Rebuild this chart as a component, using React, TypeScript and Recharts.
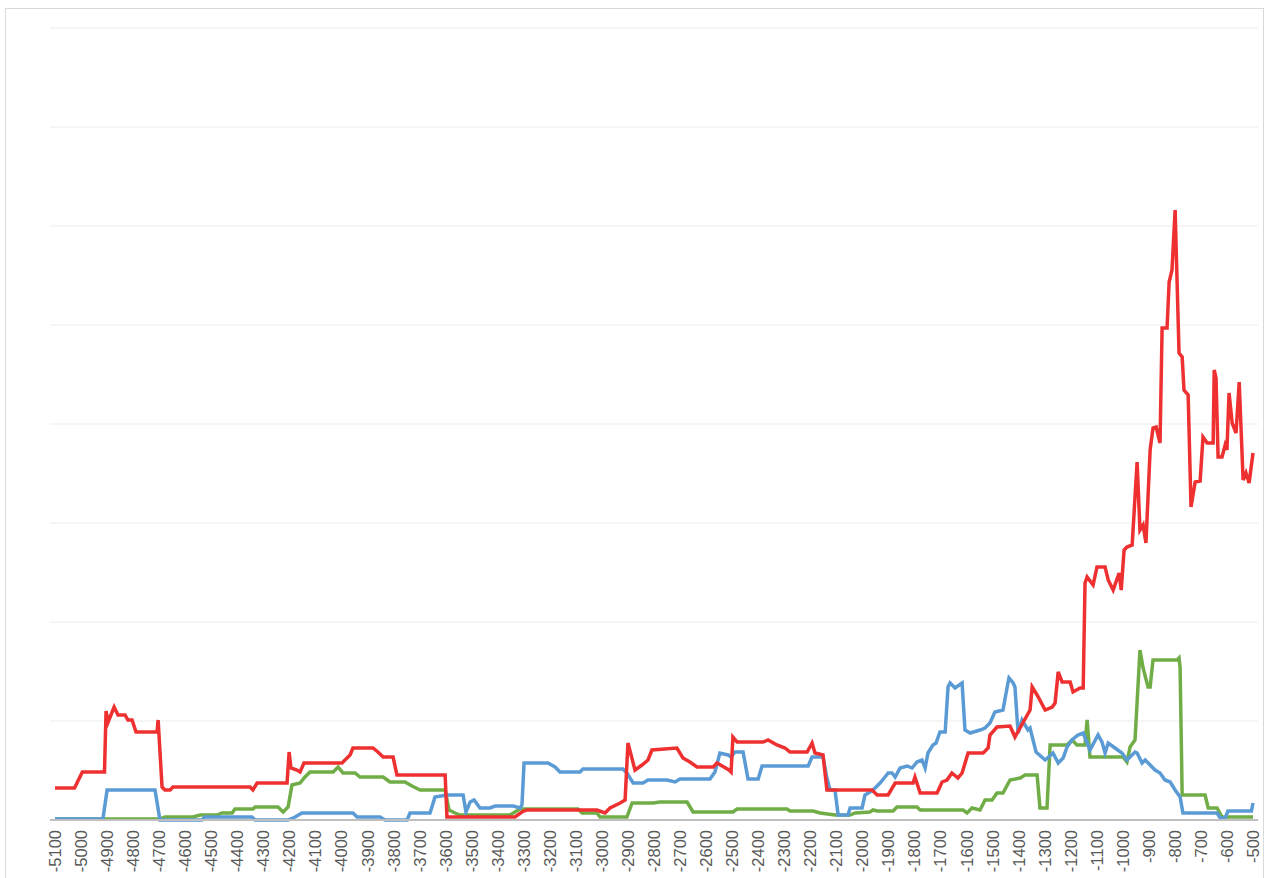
import { LineChart, Line, XAxis, YAxis, CartesianGrid } from "recharts";

// [year, value] pairs, per series
const redSeries: [number, number][] = [
  [-5100, 32], [-5025, 32], [-4995, 48], [-4910, 48], [-4904, 109], [-4896, 98],
  [-4873, 113], [-4858, 105], [-4831, 105], [-4820, 100], [-4804, 100], [-4789, 88],
  [-4708, 88], [-4704, 100], [-4689, 33], [-4678, 30], [-4658, 30], [-4647, 33],
  [-4351, 33], [-4340, 30], [-4324, 37], [-4209, 37], [-4201, 68], [-4194, 52],
  [-4171, 50], [-4159, 48], [-4144, 57], [-3998, 57], [-3967, 65], [-3956, 72],
  [-3879, 72], [-3860, 68], [-3840, 63], [-3802, 63], [-3787, 45], [-3602, 45],
  [-3595, 3], [-3334, 3], [-3307, 8], [-3288, 10], [-3019, 10], [-2988, 7],
  [-2969, 12], [-2930, 17], [-2911, 20], [-2900, 77], [-2873, 50], [-2846, 55],
  [-2823, 60], [-2808, 70], [-2712, 72], [-2689, 62], [-2662, 58], [-2635, 53],
  [-2573, 53], [-2558, 57], [-2512, 50], [-2504, 48], [-2497, 83], [-2481, 78],
  [-2381, 78], [-2362, 80], [-2328, 75], [-2297, 72], [-2278, 68], [-2212, 68],
  [-2193, 77], [-2182, 67], [-2151, 65], [-2136, 30], [-1963, 30], [-1943, 25],
  [-1901, 25], [-1874, 37], [-1805, 37], [-1798, 43], [-1778, 27], [-1713, 27],
  [-1694, 38], [-1675, 40], [-1656, 47], [-1633, 42], [-1617, 47], [-1594, 67],
  [-1536, 67], [-1517, 72], [-1510, 85], [-1483, 93], [-1433, 94], [-1414, 83],
  [-1356, 110], [-1348, 133], [-1329, 125], [-1298, 110], [-1271, 113], [-1260, 117],
  [-1248, 148], [-1233, 138], [-1202, 138], [-1191, 128], [-1164, 132], [-1152, 132],
  [-1145, 237], [-1137, 243], [-1114, 235], [-1099, 253], [-1068, 253], [-1056, 240],
  [-1037, 230], [-1014, 247], [-1006, 230], [-995, 270], [-984, 273], [-964, 275],
  [-945, 358], [-934, 290], [-922, 295], [-911, 277], [-895, 370], [-884, 392],
  [-872, 393], [-857, 377], [-849, 492], [-830, 492], [-822, 538], [-811, 550],
  [-799, 610], [-784, 467], [-772, 463], [-765, 430], [-749, 425], [-738, 313],
  [-722, 338], [-703, 339], [-692, 383], [-676, 377], [-653, 377], [-649, 450],
  [-642, 442], [-634, 363], [-619, 363], [-607, 375], [-600, 370], [-592, 427],
  [-580, 397], [-565, 387], [-553, 438], [-538, 340], [-527, 347], [-515, 337],
  [-500, 367],
];

const blueSeries: [number, number][] = [
  [-5100, 1], [-4916, 1], [-4900, 30], [-4716, 30], [-4697, 0], [-4536, 0],
  [-4524, 3], [-4344, 3], [-4332, 0], [-4205, 0], [-4178, 3], [-4152, 7],
  [-3956, 7], [-3940, 3], [-3852, 3], [-3833, 0], [-3748, 0], [-3737, 7],
  [-3660, 7], [-3641, 23], [-3595, 25], [-3533, 25], [-3522, 8], [-3506, 18],
  [-3491, 20], [-3468, 12], [-3430, 12], [-3410, 14], [-3341, 14], [-3314, 12],
  [-3307, 15], [-3299, 57], [-3207, 57], [-3180, 53], [-3161, 48], [-3084, 48],
  [-3073, 51], [-2919, 51], [-2904, 47], [-2880, 37], [-2842, 37], [-2823, 40],
  [-2750, 40], [-2719, 38], [-2700, 41], [-2585, 41], [-2566, 48], [-2547, 67],
  [-2516, 65], [-2504, 63], [-2489, 68], [-2458, 68], [-2439, 41], [-2400, 41],
  [-2385, 54], [-2208, 54], [-2193, 63], [-2151, 63], [-2136, 42], [-2124, 30],
  [-2105, 30], [-2093, 5], [-2055, 5], [-2047, 12], [-2001, 12], [-1990, 25],
  [-1959, 30], [-1932, 37], [-1913, 43], [-1901, 47], [-1886, 47], [-1874, 43],
  [-1855, 52], [-1828, 54], [-1809, 52], [-1790, 58], [-1771, 60], [-1759, 52],
  [-1748, 67], [-1729, 75], [-1717, 77], [-1702, 88], [-1682, 88], [-1671, 133],
  [-1663, 137], [-1644, 132], [-1617, 137], [-1606, 90], [-1586, 87], [-1548, 90],
  [-1529, 92], [-1510, 97], [-1491, 108], [-1460, 110], [-1441, 137], [-1437, 142],
  [-1421, 137], [-1414, 133], [-1402, 87], [-1387, 100], [-1364, 90], [-1356, 92],
  [-1333, 68], [-1298, 60], [-1268, 67], [-1248, 57], [-1229, 62], [-1214, 73],
  [-1195, 80], [-1172, 85], [-1152, 87], [-1126, 70], [-1095, 85], [-1080, 78],
  [-1068, 67], [-1056, 77], [-1030, 72], [-1003, 67], [-984, 60], [-953, 68],
  [-945, 67], [-926, 57], [-914, 60], [-895, 55], [-876, 50], [-857, 47],
  [-838, 40], [-818, 38], [-799, 30], [-780, 23], [-769, 7], [-638, 7],
  [-626, 2], [-607, 2], [-596, 9], [-506, 9], [-500, 17],
];

const greenSeries: [number, number][] = [
  [-5100, 1], [-4697, 1], [-4678, 3], [-4570, 3], [-4543, 5], [-4478, 5],
  [-4459, 7], [-4420, 7], [-4409, 11], [-4340, 11], [-4332, 13], [-4244, 13],
  [-4224, 8], [-4205, 13], [-4190, 35], [-4159, 37], [-4140, 43], [-4121, 48],
  [-4032, 48], [-4013, 53], [-3994, 47], [-3948, 47], [-3929, 43], [-3840, 43],
  [-3814, 38], [-3756, 38], [-3729, 34], [-3698, 30], [-3602, 30], [-3587, 10],
  [-3564, 7], [-3545, 5], [-3353, 5], [-3334, 8], [-3314, 11], [-3092, 11],
  [-3076, 7], [-3019, 7], [-3007, 3], [-2904, 3], [-2884, 17], [-2804, 17],
  [-2777, 18], [-2673, 18], [-2650, 8], [-2497, 8], [-2481, 11], [-2289, 11],
  [-2278, 9], [-2189, 9], [-2162, 7], [-2105, 5], [-2047, 5], [-2028, 7],
  [-1971, 8], [-1959, 10], [-1943, 9], [-1882, 9], [-1867, 13], [-1790, 13],
  [-1778, 10], [-1613, 10], [-1598, 7], [-1579, 12], [-1548, 10], [-1529, 20],
  [-1502, 20], [-1483, 27], [-1460, 27], [-1433, 40], [-1394, 42], [-1375, 45],
  [-1329, 45], [-1318, 12], [-1291, 12], [-1279, 75], [-1214, 75], [-1195, 80],
  [-1176, 75], [-1145, 75], [-1137, 100], [-1126, 63], [-1076, 63], [-999, 63],
  [-984, 58], [-972, 73], [-953, 80], [-934, 170], [-922, 152], [-903, 133],
  [-895, 133], [-884, 160], [-791, 160], [-784, 162], [-780, 153], [-772, 25],
  [-684, 25], [-672, 12], [-638, 12], [-619, 3], [-500, 3],
];

const xTicks: number[] = [];
for (let t = -5100; t <= -500; t += 100) xTicks.push(t);

const yTicks = [0, 99, 198, 297, 396, 495, 594, 693, 792];

const toRows = (s: [number, number][]) => s.map(([x, v]) => ({ x, v }));

function RotatedTick({ x, y, payload }: { x?: number; y?: number; payload?: { value: number } }) {
  const ty = (y ?? 0) + 2;
  return (
    <text
      x={x}
      y={ty}
      transform={`rotate(-90 ${x} ${ty})`}
      textAnchor="end"
      dominantBaseline="central"
      fontSize={16.5}
      fill="#595959"
      fontFamily="'Liberation Sans', Arial, sans-serif"
    >
      {payload?.value}
    </text>
  );
}

export default function App() {
  return (
    <div
      style={{
        position: "absolute",
        left: 5,
        top: 8,
        width: 1259,
        height: 880,
        border: "1px solid #d9d9d9",
        boxSizing: "border-box",
        background: "#fff",
      }}
    >
      <LineChart width={1257} height={878} margin={{ top: 19, right: 5, bottom: 7, left: 44 }}>
        <CartesianGrid vertical={false} stroke="#ececec" strokeWidth={1} />
        <XAxis
          dataKey="x"
          type="number"
          domain={[-5100, -500]}
          ticks={xTicks}
          interval={0}
          padding={{ left: 5, right: 5 }}
          height={60}
          tickLine={false}
          axisLine={{ stroke: "#bfbfbf", strokeWidth: 2 }}
          tick={<RotatedTick />}
          allowDuplicatedCategory={false}
        />
        <YAxis hide type="number" domain={[0, 792]} ticks={yTicks} />
        <Line data={toRows(greenSeries)} dataKey="v" stroke="#70ad47" strokeWidth={3.5} dot={false} isAnimationActive={false} />
        <Line data={toRows(blueSeries)} dataKey="v" stroke="#5b9bd5" strokeWidth={3.5} dot={false} isAnimationActive={false} />
        <Line data={toRows(redSeries)} dataKey="v" stroke="#ee3030" strokeWidth={3.5} dot={false} isAnimationActive={false} />
      </LineChart>
    </div>
  );
}
